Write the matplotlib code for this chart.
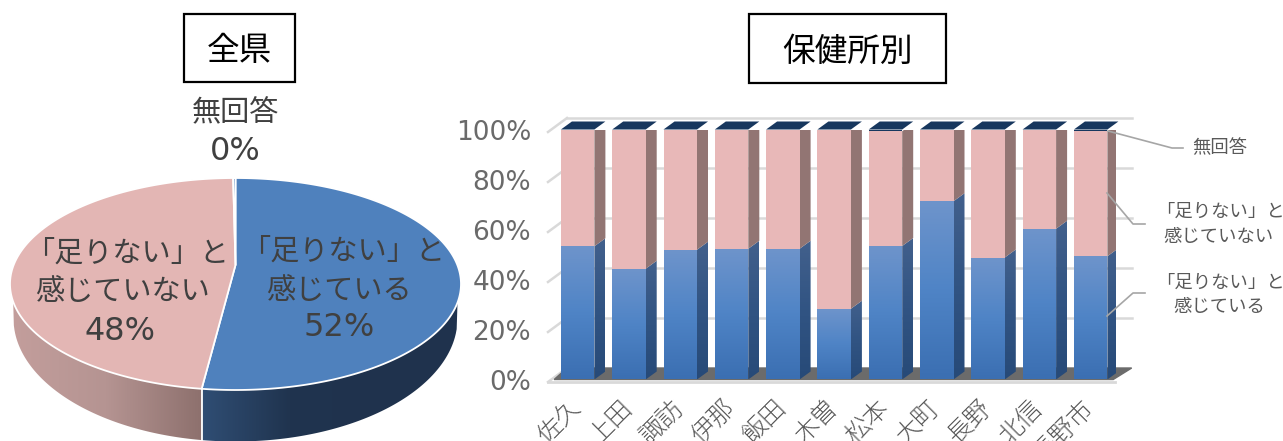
import matplotlib
matplotlib.use('Agg')
import matplotlib.pyplot as plt
import numpy as np
from matplotlib.colors import LinearSegmentedColormap
from matplotlib.patches import Polygon, Rectangle
from matplotlib.transforms import ScaledTranslation

plt.rcParams['font.family'] = ['Noto Sans CJK JP', 'DejaVu Sans']

W, H = 1283, 441

# prefecture pie, clockwise from the top
pie_shares = [52.0, 47.8, 0.2]

# by health office
offices = ['佐久', '上田', '諏訪', '伊那', '飯田', '木曽', '松本', '大町', '長野', '北信', '長野市']
feel_short = [53.3, 44.3, 51.9, 52.3, 52.3, 28.3, 53.4, 71.3, 48.8, 60.3, 49.3]
no_answer = [0, 0, 0, 0, 0, 0, 0.7, 0, 0, 0, 0.7]
not_short = [round(100 - a - b, 1) for a, b in zip(feel_short, no_answer)]
y_ticks = [0, 20, 40, 60, 80, 100]

BLUE = '#4f81bd'
PINK = '#e3b6b4'
TEXT = '#404040'
GRAY = '#595959'
LATIN = 'DejaVu Sans'   # percent figures are set wide

blue_front = LinearSegmentedColormap.from_list('bf', ['#6e94cb', '#4f84c6', '#3b6fb2'])
blue_side = LinearSegmentedColormap.from_list('bs', ['#42608c', '#315483', '#274a78'])
pink_wall = LinearSegmentedColormap.from_list('pw', ['#c39e9c', '#b59492', '#8e716e'])
blue_wall = LinearSegmentedColormap.from_list('bw', ['#2f4d73', '#20344f', '#1f324d', '#1f334e'])

fig = plt.figure(figsize=(W / 100, H / 100), dpi=100)

# ---- stacked bars ----
px_x = 51.3             # pixels per category
px_y = 2.5              # pixels per percent
left = 552
base = 379.5
ax = fig.add_axes([left / W, 1 - base / H, 11 * px_x / W, 100 * px_y / H], zorder=1)
ax.patch.set_visible(False)
bw = 33.5 / px_x
dx = 11 / px_x
dy = 8 / px_y


def grad_poly(a, pts, cmap, zorder, vertical=True):
    # polygon filled with a gradient image clipped to its outline
    pts = np.array(pts)
    g = np.linspace(0, 1, 64)
    g = g[:, None] if vertical else g[None, :]
    ext = [pts[:, 0].min(), pts[:, 0].max(), pts[:, 1].min(), pts[:, 1].max()]
    im = a.imshow(g, extent=ext, cmap=cmap, aspect='auto', origin='upper' if vertical else 'lower',
                  zorder=zorder, interpolation='bilinear')
    im.set_clip_path(Polygon(pts, closed=True, transform=a.transData))


# back wall gridlines and floor
wall_dx0 = -4 / px_x - 0.5
wall_dx1 = 15 / px_x - 0.5
right_back = 10.5 + 15.4 / px_x
for v in y_ticks:
    yb = v + 4.6
    yf = v - 1.0
    ax.plot([wall_dx0, wall_dx1], [yf, yb], color='#d9d9d9', lw=1.8, zorder=1, clip_on=False)
    if v > 0:
        ax.plot([wall_dx1, right_back], [yb, yb], color='#d9d9d9', lw=1.8, zorder=1, clip_on=False)
ax.add_patch(Polygon([(wall_dx0 + 0.12, 0), (wall_dx1, 4.6), (right_back, 4.6), (10.5 - 0.06, 0)],
                     closed=True, color='#6b6b6b', zorder=1.5, clip_on=False))
ax.plot([wall_dx0, 10.5 - 0.03], [-1, -1], color='#d9d9d9', lw=2, zorder=1.5, clip_on=False)

for i in range(len(offices)):
    x0 = i - bw / 2
    x1 = i + bw / 2
    a = feel_short[i]
    b = a + not_short[i]
    top = b + no_answer[i]
    # blue segment, front then side
    grad_poly(ax, [(x0, 0), (x1, 0), (x1, a), (x0, a)], blue_front, 3)
    grad_poly(ax, [(x1, 0), (x1 + dx, dy), (x1 + dx, a + dy), (x1, a)], blue_side, 2.5)
    # pink segment
    ax.add_patch(Rectangle((x0, a), bw, b - a, color='#e8b8b8', lw=0, zorder=3))
    ax.add_patch(Polygon([(x1, a), (x1 + dx, a + dy), (x1 + dx, b + dy), (x1, b)],
                         closed=True, color='#927573', lw=0, zorder=2.5))
    # no answer sits on top, mostly seen as the lid
    if no_answer[i] > 0:
        ax.add_patch(Rectangle((x0, b), bw, top - b, color='#17375e', lw=0, zorder=3))
    ax.add_patch(Polygon([(x0, top), (x1, top), (x1 + dx, top + dy), (x0 + dx, top + dy)],
                         closed=True, color='#17375e', lw=0, zorder=3, clip_on=False))

ax.set_xlim(-0.5, 10.5)
ax.set_ylim(0, 100)
for s in ax.spines.values():
    s.set_visible(False)
ax.set_yticks(y_ticks)
ax.set_yticklabels([f'{v}%' for v in y_ticks], fontsize=19, color='#6a6a6a', family=LATIN)
ax.set_xticks(range(len(offices)))
ax.set_xticklabels(offices, rotation=45, ha='right', rotation_mode='anchor', fontsize=18,
                   color=GRAY, fontweight='light')
ax.tick_params(axis='y', length=0, pad=15)
ax.tick_params(axis='x', length=0, pad=9)
# office names sit a little left of their bars
nudge = ScaledTranslation(-10 / 100, -3 / 100, fig.dpi_scale_trans)
for lab in ax.get_xticklabels():
    lab.set_transform(lab.get_transform() + nudge)

# ---- overlay in pixel units: pie, titles, callouts ----
ov = fig.add_axes([0, 0, 1, 1], zorder=2)
ov.patch.set_visible(False)
ov.axis('off')

cx, cy, rx, ry = 235.5, 284.0, 225.5, 106.0
k = 0.18                # shifts the hub upward for the tilted view
bx, by, brx, bry = 235.5, 318.5, 222.0, 123.0


def rim(theta):
    # clockwise angle from the top, projected onto the tilted disc
    u, v = np.sin(theta), np.cos(theta)
    d = 1 + k * v
    return cx + rx * u * np.sqrt(1 - k ** 2) / d, cy - ry * (v + k) / d


edges = 2 * np.pi * np.cumsum([0] + pie_shares) / sum(pie_shares)
pie_colors = [BLUE, PINK, '#4f81bd']
split_x = float(rim(edges[1])[0])


def wall(xa, xb, cmap):
    xs = np.linspace(xa, xb, 300)
    u = np.clip((xs - cx) / rx, -1, 1)
    upper = cy + ry * np.sqrt(1 - u ** 2)
    ub = (xs - bx) / brx
    lower = np.where(np.abs(ub) < 1, by + bry * np.sqrt(np.clip(1 - ub ** 2, 0, 1)), upper)
    pts = list(zip(xs, upper)) + list(zip(xs[::-1], lower[::-1]))
    grad_poly(ov, pts, cmap, 1, vertical=False)


wall(cx - rx, split_x, pink_wall)
wall(split_x, cx + rx, blue_wall)

for share_i, col in enumerate(pie_colors):
    th = np.linspace(edges[share_i], edges[share_i + 1], 240)
    xs, ys = rim(th)
    hub = (cx, cy - ry * k)
    ov.add_patch(Polygon([hub] + list(zip(xs, ys)), closed=True, facecolor=col, edgecolor='white',
                         lw=1.3, zorder=2, joinstyle='round'))
ov.plot([split_x, split_x], [rim(edges[1])[1], 441], color='white', lw=1.3, zorder=2)

# titles
for x0, x1, y0, y1, label in [(184, 295, 14, 82, '全県'), (749, 946, 14, 83, '保健所別')]:
    ov.add_patch(Rectangle((x0, y0), x1 - x0, y1 - y0, facecolor='white', edgecolor='black', lw=1.6, zorder=3))
    ov.text((x0 + x1) / 2, (y0 + y1) / 2 + 3, label, fontsize=23.5, color='black', ha='center', va='center', zorder=4)

# pie labels
for x, y, label in [(235, 113, '無回答'),
                    (127, 254, '「足りない」と'), (122, 292, '感じていない'),
                    (343, 252, '「足りない」と'), (339, 291, '感じている')]:
    ov.text(x, y, label, fontsize=21, color=TEXT, ha='center', va='center', zorder=4)
for x, y, label in [(235, 151, '0%'), (120, 332, '48%'), (339, 328, '52%')]:
    ov.text(x, y, label, fontsize=23, color=TEXT, ha='center', va='center', zorder=4, family=LATIN)

# callouts
for pts in [[(1108, 131), (1172, 148), (1183, 148)],
            [(1107, 193), (1133, 224), (1145, 224)],
            [(1107, 316), (1133, 293), (1145, 293)]]:
    ov.plot(*zip(*pts), color='#a6a6a6', lw=1.2, zorder=4)
for x, y, label in [(1220, 148, '無回答'),
                    (1220, 212, '「足りない」と'), (1219, 237, '感じていない'),
                    (1220, 283, '「足りない」と'), (1219, 307, '感じている')]:
    ov.text(x, y, label, fontsize=13.2, color=GRAY, ha='center', va='center', zorder=4)

ov.set_xlim(0, W)
ov.set_ylim(H, 0)

fig.savefig('out.png', dpi=100)
